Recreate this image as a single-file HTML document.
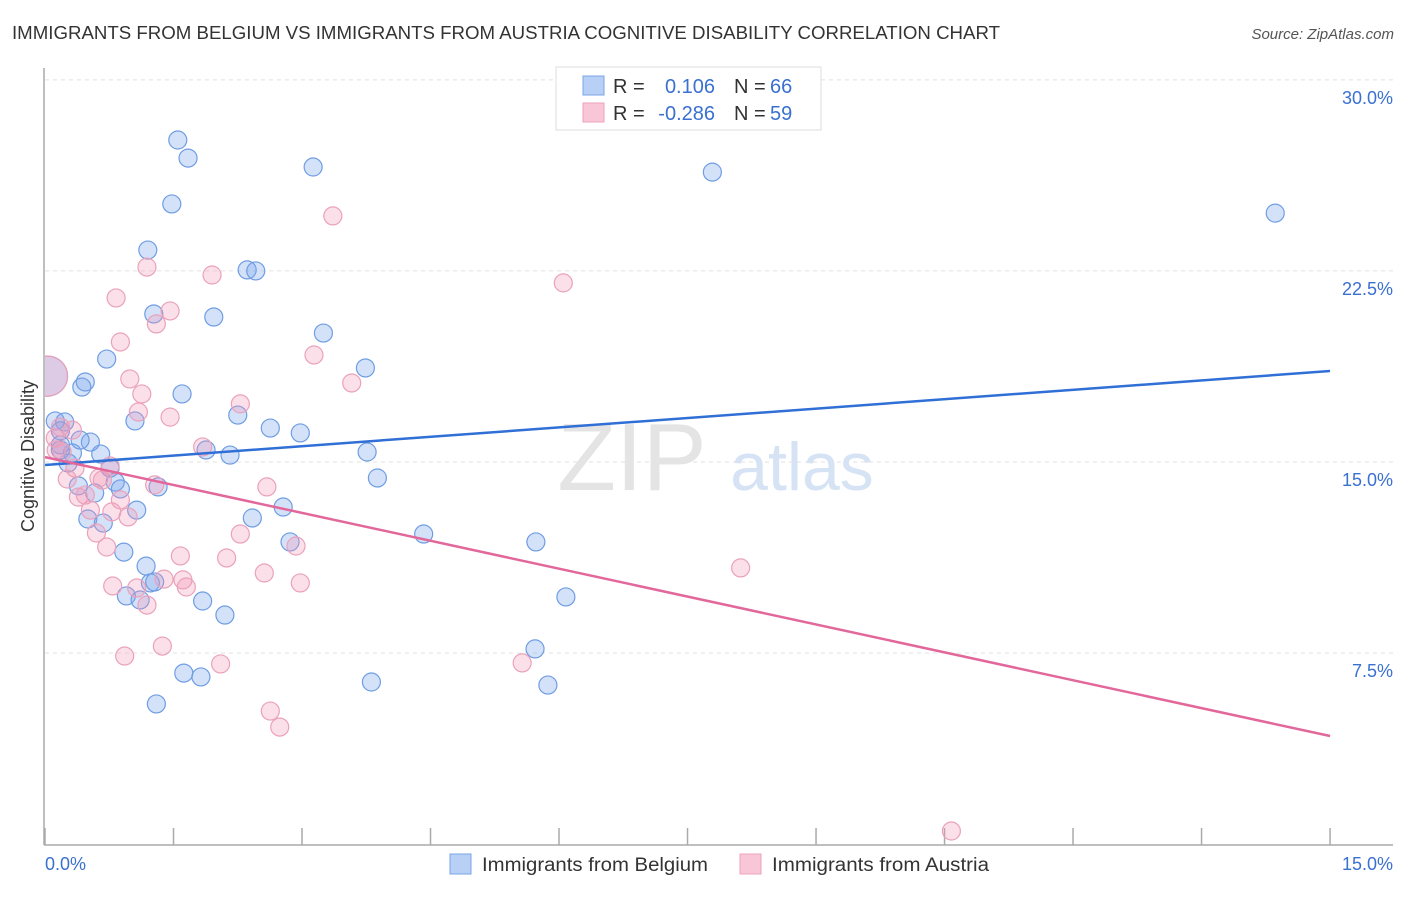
<!DOCTYPE html>
<html><head><meta charset="utf-8"><style>
body{margin:0;background:#fff;font-family:"Liberation Sans",sans-serif;}
svg text{font-family:"Liberation Sans",sans-serif;}
</style></head><body>
<svg id="chart" width="1406" height="892">
<defs><clipPath id="plotclip"><rect x="45" y="60" width="1360" height="785"/></clipPath></defs>
<text x="12" y="39" font-size="18" fill="#333" textLength="988" lengthAdjust="spacingAndGlyphs">IMMIGRANTS FROM BELGIUM VS IMMIGRANTS FROM AUSTRIA COGNITIVE DISABILITY CORRELATION CHART</text>
<text x="1394" y="39" font-size="15" fill="#555" font-style="italic" text-anchor="end">Source: ZipAtlas.com</text>
<g id="grid"></g>
<text x="632" y="490" font-size="96" fill="#e4e4e4" font-family="Liberation Serif" text-anchor="middle">ZIP</text>
<text x="802" y="490" font-size="68" fill="#d6e3f5" text-anchor="middle">atlas</text>
<line x1="44" y1="68" x2="44" y2="845" stroke="#aaa" stroke-width="1.5"/>
<line x1="44" y1="845" x2="1393" y2="845" stroke="#aaa" stroke-width="1.5"/>
<g id="xticks"></g>
<text transform="translate(34,456) rotate(-90)" font-size="18" fill="#333" text-anchor="middle">Cognitive Disability</text>
<text x="45" y="870" font-size="18" fill="#3a70d0">0.0%</text>
<text x="1393" y="870" font-size="18" fill="#3a70d0" text-anchor="end">15.0%</text>
<g id="pts" clip-path="url(#plotclip)"></g>
<g id="trends"></g>
<g>
<rect x="556" y="67" width="265" height="63" fill="#fff" stroke="#ddd"/>
<rect x="583" y="76" width="21" height="19" fill="#b8d0f5" stroke="#7aa5e6"/>
<rect x="583" y="103" width="21" height="19" fill="#f8c6d6" stroke="#eca3bb"/>
<text x="613" y="93" font-size="20" fill="#333">R =</text><text x="715" y="93" font-size="20" fill="#3a70d0" text-anchor="end">0.106</text>
<text x="734" y="93" font-size="20" fill="#333">N =</text><text x="770" y="93" font-size="20" fill="#3a70d0">66</text>
<text x="613" y="120" font-size="20" fill="#333">R =</text><text x="715" y="120" font-size="20" fill="#3a70d0" text-anchor="end">-0.286</text>
<text x="734" y="120" font-size="20" fill="#333">N =</text><text x="770" y="120" font-size="20" fill="#3a70d0">59</text>
</g>
<g>
<rect x="450" y="854" width="21" height="20" fill="#b8d0f5" stroke="#7aa5e6"/>
<text x="482" y="871" font-size="19" fill="#333" textLength="226" lengthAdjust="spacingAndGlyphs">Immigrants from Belgium</text>
<rect x="740" y="854" width="21" height="20" fill="#f8c6d6" stroke="#eca3bb"/>
<text x="772" y="871" font-size="19" fill="#333" textLength="217" lengthAdjust="spacingAndGlyphs">Immigrants from Austria</text>
</g>
</svg>
<script>
const yTicks=[30,22.5,15,7.5];
const yTickLabels=["30.0%","22.5%","15.0%","7.5%"];
const xTicks=[0,1.5,3,4.5,6,7.5,9,10.5,12,13.5,15];
const belgiumX=[1.55,1.67,1.48,3.13,7.79,14.36,1.20,2.36,2.46,1.27,1.97,3.25,0.72,3.74,0.47,0.43,1.60,2.25,1.05,0.12,0.23,0.18,2.63,2.98,0.53,1.88,2.16,3.76,0.32,0.65,0.18,0.27,0.76,3.88,0.82,0.88,0.39,0.58,1.32,2.78,1.07,2.42,0.50,0.68,4.42,2.86,5.73,0.92,1.18,1.23,1.28,0.95,1.11,1.84,6.08,2.10,5.72,1.62,1.82,3.81,5.87,1.30,0.18,0.41,0.03];
const belgiumY=[27.64,26.93,25.13,26.58,26.38,24.77,23.32,22.54,22.50,20.81,20.69,20.06,19.04,18.69,18.14,17.94,17.67,16.84,16.61,16.61,16.57,16.22,16.33,16.14,15.78,15.47,15.27,15.39,15.35,15.31,15.47,14.96,14.76,14.37,14.21,13.94,14.06,13.78,14.02,13.23,13.11,12.80,12.76,12.60,12.17,11.86,11.86,11.46,10.91,10.25,10.29,9.74,9.58,9.54,9.70,8.99,7.66,6.71,6.56,6.36,6.24,5.50,15.67,15.86,18.37];
const austriaX=[3.36,1.19,1.95,6.05,0.83,1.46,1.30,0.88,3.14,0.99,3.58,1.13,2.28,1.09,1.46,0.18,0.32,0.12,1.84,0.13,0.20,0.35,0.76,0.63,0.67,0.26,2.59,1.28,0.39,0.53,0.97,2.28,0.60,2.93,0.72,1.58,2.12,2.56,8.12,2.98,1.39,1.61,0.79,1.07,1.65,1.19,1.37,0.93,2.05,5.57,2.63,2.74,10.58,0.88,0.47,0.78,0.03];
const austriaY=[24.66,22.65,22.34,22.03,21.44,20.93,20.42,19.71,19.20,18.26,18.10,17.67,17.28,16.96,16.76,16.37,16.25,15.94,15.59,15.47,15.39,14.76,14.84,14.37,14.29,14.33,14.02,14.10,13.62,13.11,12.84,12.17,12.21,11.70,11.66,11.31,11.23,10.64,10.84,10.25,10.40,10.37,10.13,10.05,10.09,9.38,7.77,7.38,7.07,7.11,5.22,4.59,0.51,13.51,13.70,13.04,18.37];
const trendBelgium=[14.88,18.57];
const trendAustria=[15.19,4.24];
const NS="http://www.w3.org/2000/svg";
const sx=v=>45+v*85.67, sy=v=>844-v*25.47;
function mk(t,a,p){const e=document.createElementNS(NS,t);for(const k in a)e.setAttribute(k,a[k]);p.appendChild(e);return e;}
const grid=document.getElementById('grid');
yTicks.forEach((t,i)=>{
  const l=mk('line',{x1:45,x2:1393,y1:sy(t),y2:sy(t),stroke:'#e2e2e2','stroke-dasharray':'4,4'},grid);
  
  
  const tx=mk('text',{x:1393,y:sy(t)+24,'font-size':18,fill:'#3a70d0','text-anchor':'end'},grid);
  tx.textContent=yTickLabels[i];
  
  
});
const xt=document.getElementById('xticks');
xTicks.forEach(t=>{
  const l=mk('line',{x1:sx(t),x2:sx(t),y1:828,y2:845,stroke:'#aaa','stroke-width':1.5},xt);
  
  
});
const pts=document.getElementById('pts');
function draw(X,Y,fill,stroke,name){
  X.forEach((x,i)=>{
    const big=(i===X.length-1 && x<0.1);
    const c=mk('circle',{cx:sx(x),cy:sy(Y[i]),r:big?20:9,fill:fill,stroke:stroke,'stroke-width':1.2},pts);
    
    
  });
}
draw(belgiumX,belgiumY,'rgba(120,165,235,0.32)','#6f9de3','point-belgium');
draw(austriaX,austriaY,'rgba(242,150,182,0.3)','#eaa2ba','point-austria');
const tr=document.getElementById('trends');
const t1=mk('line',{x1:sx(0),y1:sy(trendBelgium[0]),x2:sx(15),y2:sy(trendBelgium[1]),stroke:'#2f6fd6','stroke-width':2.5},tr);


const t2=mk('line',{x1:sx(0),y1:sy(trendAustria[0]),x2:sx(15),y2:sy(trendAustria[1]),stroke:'#e2679a','stroke-width':2.5},tr);


</script>
</body></html>
